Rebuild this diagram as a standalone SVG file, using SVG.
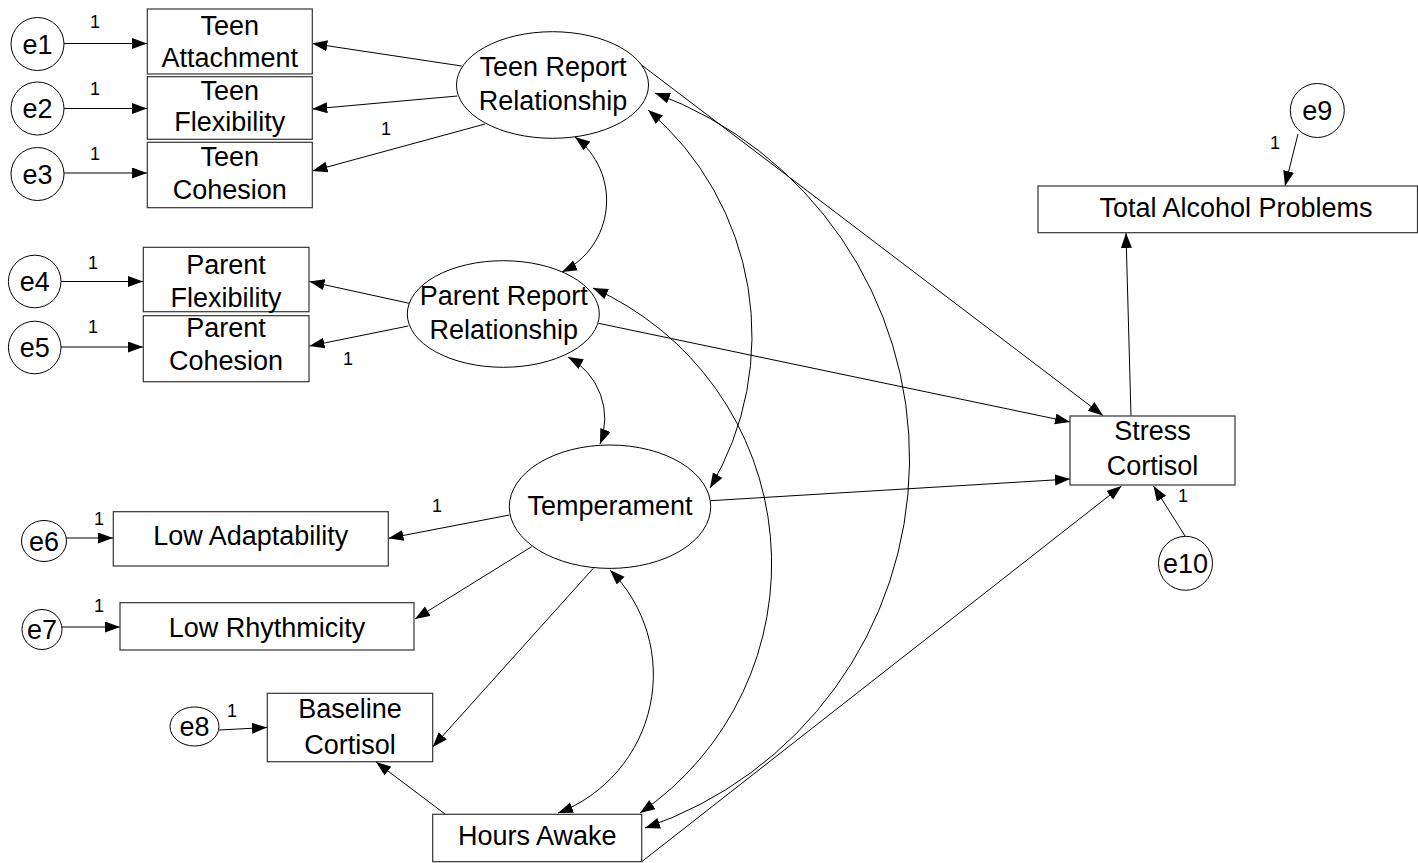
<svg xmlns="http://www.w3.org/2000/svg" width="1418" height="863" viewBox="0 0 1418 863">
<style>
.bx{fill:#fff;stroke:#333;stroke-width:1.2}
.el{fill:#fff;stroke:#000;stroke-width:1}
.ln{fill:none;stroke:#000;stroke-width:1;marker-end:url(#ah)}
.cv{fill:none;stroke:#000;stroke-width:1;marker-start:url(#ah);marker-end:url(#ah)}
text{font-family:"Liberation Sans",Arial,Helvetica,sans-serif;font-size:27px;text-anchor:middle;fill:#000}
text.one{font-size:18px}
</style>
<defs>
<marker id="ah" markerUnits="userSpaceOnUse" markerWidth="16" markerHeight="12" refX="15" refY="5.5" orient="auto-start-reverse" viewBox="0 0 16 12">
<path d="M0,0 L15,5.5 L0,11 z" fill="#000"/>
</marker>
</defs>
<rect width="1418" height="863" fill="#fff"/>
<g id="connectors">
<line class="ln" x1="64" y1="43.5" x2="147" y2="43.5"/>
<line class="ln" x1="64" y1="108.5" x2="147" y2="108.5"/>
<line class="ln" x1="64" y1="173" x2="147" y2="173"/>
<line class="ln" x1="61" y1="281.5" x2="143" y2="281.5"/>
<line class="ln" x1="61" y1="347" x2="143" y2="347"/>
<line class="ln" x1="66" y1="538" x2="113" y2="538"/>
<line class="ln" x1="62" y1="627" x2="120" y2="627"/>
<line class="ln" x1="219" y1="730" x2="267" y2="727.5"/>
<line class="ln" x1="461.7" y1="66" x2="312.3" y2="43.5"/>
<line class="ln" x1="457.3" y1="96" x2="312.3" y2="109"/>
<line class="ln" x1="485" y1="124" x2="312.5" y2="171"/>
<line class="ln" x1="409.3" y1="303.3" x2="309.5" y2="281.5"/>
<line class="ln" x1="408.3" y1="326" x2="309.5" y2="346"/>
<line class="ln" x1="509.5" y1="515" x2="388.5" y2="538.3"/>
<line class="ln" x1="531.7" y1="546.7" x2="415" y2="619"/>
<line class="ln" x1="593.3" y1="568.3" x2="432.7" y2="747"/>
<line class="ln" x1="445" y1="814" x2="376" y2="762"/>
<line class="ln" x1="635" y1="60" x2="1103" y2="415.5"/>
<line class="ln" x1="598.5" y1="323.3" x2="1070" y2="422"/>
<line class="ln" x1="710.5" y1="500.7" x2="1070" y2="479"/>
<line class="ln" x1="641.7" y1="861.7" x2="1121.5" y2="486"/>
<line class="ln" x1="1131" y1="416" x2="1126" y2="233"/>
<line class="ln" x1="1298" y1="134" x2="1285" y2="186"/>
<line class="ln" x1="1185.7" y1="537" x2="1153.5" y2="486"/>
<path class="cv" d="M575,137 A79.6,79.6 0 0 1 562,272"/>
<path class="cv" d="M568,357 A70,70 0 0 1 600,444"/>
<path class="cv" d="M648,110 A297,297 0 0 1 710,488"/>
<path class="cv" d="M655,93 A390,390 0 0 1 645,828"/>
<path class="cv" d="M593,288 A302,302 0 0 1 640,813"/>
<path class="cv" d="M610,570 A148,148 0 0 1 558,813"/>
</g>
<g id="e1"><circle class="el" cx="37.5" cy="44" r="26.5"/><text x="37.5" y="53.5">e1</text></g>
<g id="e2"><circle class="el" cx="37.5" cy="108.5" r="26.5"/><text x="37.5" y="118">e2</text></g>
<g id="e3"><circle class="el" cx="37.5" cy="174" r="26.5"/><text x="37.5" y="183.5">e3</text></g>
<g id="e4"><circle class="el" cx="34.7" cy="281.5" r="26.3"/><text x="34.7" y="291">e4</text></g>
<g id="e5"><circle class="el" cx="34.7" cy="347.5" r="26.3"/><text x="34.7" y="357">e5</text></g>
<g id="e6"><ellipse class="el" cx="44" cy="541" rx="22.5" ry="20.5"/><text x="44" y="550.5">e6</text></g>
<g id="e7"><ellipse class="el" cx="42" cy="629.5" rx="20" ry="20"/><text x="42" y="639">e7</text></g>
<g id="e8"><ellipse class="el" cx="194.5" cy="726.5" rx="24.5" ry="19.5"/><text x="194.5" y="736">e8</text></g>
<g id="e9"><circle class="el" cx="1317.3" cy="110.5" r="27"/><text x="1317.3" y="120">e9</text></g>
<g id="e10"><circle class="el" cx="1185.5" cy="563.3" r="27"/><text x="1185.5" y="573">e10</text></g>
<g id="teen-attachment"><rect class="bx" x="147.3" y="9" width="165" height="65"/><text x="229.8" y="35">Teen</text><text x="229.8" y="67">Attachment</text></g>
<g id="teen-flexibility"><rect class="bx" x="147.3" y="76.7" width="165" height="62.6"/><text x="229.8" y="100">Teen</text><text x="229.8" y="131">Flexibility</text></g>
<g id="teen-cohesion"><rect class="bx" x="147.3" y="142.3" width="165" height="65.4"/><text x="229.8" y="165.5">Teen</text><text x="229.8" y="198.5">Cohesion</text></g>
<g id="parent-flexibility"><rect class="bx" x="143.3" y="247.3" width="165.7" height="64.4"/><text x="226" y="273.5">Parent</text><text x="226" y="306.5">Flexibility</text></g>
<g id="parent-cohesion"><rect class="bx" x="143.3" y="315.7" width="165.7" height="66"/><text x="226" y="337">Parent</text><text x="226" y="370">Cohesion</text></g>
<g id="teen-report"><ellipse class="el" cx="552.5" cy="85" rx="96" ry="53.3"/><text x="553" y="76">Teen Report</text><text x="553" y="110">Relationship</text></g>
<g id="parent-report"><ellipse class="el" cx="503.3" cy="314" rx="96" ry="53.3"/><text x="503.7" y="305">Parent Report</text><text x="503.7" y="338.5">Relationship</text></g>
<g id="temperament"><ellipse class="el" cx="610" cy="506.7" rx="100.7" ry="61.7"/><text x="610" y="514.5">Temperament</text></g>
<g id="low-adaptability"><rect class="bx" x="113.3" y="511.7" width="275" height="54.3"/><text x="250.8" y="545">Low Adaptability</text></g>
<g id="low-rhythmicity"><rect class="bx" x="120" y="602.7" width="294" height="47.3"/><text x="267" y="636.5">Low Rhythmicity</text></g>
<g id="baseline-cortisol"><rect class="bx" x="267.3" y="693.3" width="165.4" height="68.4"/><text x="350" y="718">Baseline</text><text x="350" y="754">Cortisol</text></g>
<g id="hours-awake"><rect class="bx" x="432.7" y="814.3" width="209" height="47.4"/><text x="537.2" y="845">Hours Awake</text></g>
<g id="stress-cortisol"><rect class="bx" x="1070" y="416" width="165" height="69"/><text x="1152.5" y="440">Stress</text><text x="1152.5" y="475">Cortisol</text></g>
<g id="total-alcohol-problems"><rect class="bx" x="1038" y="186" width="379.5" height="46.7"/><text x="1236" y="216.5">Total Alcohol Problems</text></g>
<g id="labels">
<text class="one" x="95" y="28">1</text>
<text class="one" x="95" y="94.5">1</text>
<text class="one" x="95" y="159.5">1</text>
<text class="one" x="93" y="268.5">1</text>
<text class="one" x="93" y="332.5">1</text>
<text class="one" x="386" y="134.5">1</text>
<text class="one" x="348" y="364.5">1</text>
<text class="one" x="99" y="524.5">1</text>
<text class="one" x="99" y="611.5">1</text>
<text class="one" x="437" y="511.5">1</text>
<text class="one" x="232" y="716.5">1</text>
<text class="one" x="1275" y="148.5">1</text>
<text class="one" x="1183" y="501.5">1</text>
</g>
</svg>
